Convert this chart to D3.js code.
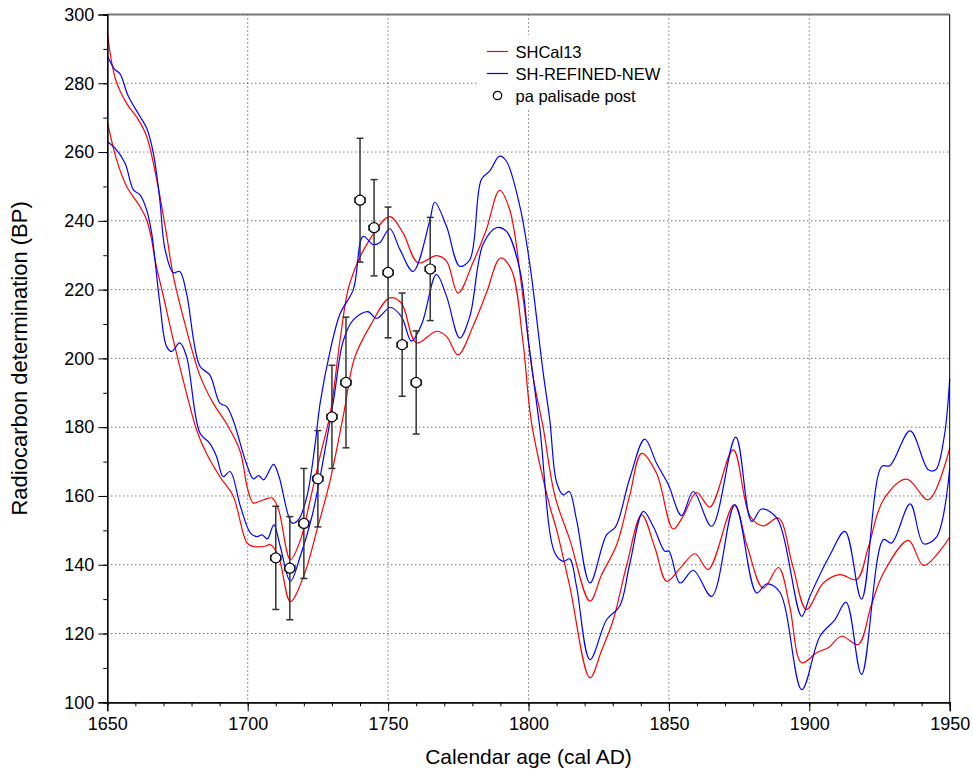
<!DOCTYPE html>
<html>
<head>
<meta charset="utf-8">
<script src="https://d3js.org/d3.v7.min.js"></script>
<style>
  html, body { margin: 0; padding: 0; background: #fff; }
  svg { display: block; font-family: "Liberation Sans", Arial, Helvetica, sans-serif; }
</style>
</head>
<body>
<div id="chart"></div>
<script>
// SHCal13 1-sigma envelope [cal AD, BP]
var shcalUpper = [
  [1650, 294.7], [1653, 281], [1657, 274], [1661, 269.5], [1664, 264.6], [1667.6, 252],
  [1671, 236.5], [1673.5, 224], [1678, 209], [1683, 195], [1687.7, 187], [1692.5, 181],
  [1697.3, 173], [1700, 162], [1702, 158], [1705.7, 158.9], [1708.7, 159.4], [1711, 156],
  [1715.2, 141.5], [1718.7, 147], [1722.3, 159], [1725.9, 172], [1729.4, 184], [1733, 206],
  [1736.4, 222], [1743.5, 234.6], [1750.6, 241.2], [1755.3, 236.5], [1760.7, 227.8],
  [1767.2, 229.9], [1770.8, 228.3], [1774.9, 219], [1780.2, 227.8], [1785, 237.5],
  [1789.7, 248.9], [1793.3, 243.3], [1798, 218], [1801.6, 194.8], [1805.2, 180], [1809.4, 160],
  [1814.7, 147.3], [1821.9, 129.4], [1826, 137], [1831.4, 145.8], [1836, 160], [1840.3, 172.4],
  [1845.6, 166.6], [1851.5, 150.4], [1855, 154], [1859.9, 161], [1864.6, 156.8], [1872.9, 173.4],
  [1878.9, 154.1], [1883.6, 151.3], [1889, 153.6], [1894, 140], [1899, 127], [1905, 134.7],
  [1910.9, 137.1], [1916.9, 135.7], [1921, 145], [1926.4, 158.9], [1934.7, 164.9],
  [1942.4, 158.9], [1950, 173.9]
];
var shcalLower = [
  [1650, 268.9], [1653.3, 257.8], [1656.9, 250], [1661.6, 244.2], [1664, 240.3], [1665.8, 234.5],
  [1667, 228.6], [1670, 218], [1673.5, 205.4], [1678.2, 189.9], [1681.8, 179.2], [1685.3, 172.4],
  [1690.1, 165.6], [1694.8, 160], [1699.8, 146.3], [1702.1, 145.3], [1705.7, 145.3],
  [1708.1, 145.8], [1711, 142.4], [1715.2, 129.3], [1719.9, 136.6], [1724.7, 150.2],
  [1729.4, 164.7], [1734.2, 184], [1738, 200], [1743.5, 209.3], [1750.6, 217.6], [1754.7, 216.1],
  [1760.1, 204.5], [1767.2, 207.9], [1770.8, 206.4], [1774.9, 201], [1780.2, 209.3], [1785, 219],
  [1790, 229.2], [1793.9, 225.8], [1798, 205], [1801.1, 181.2], [1807.6, 157], [1810, 150.2],
  [1814.7, 133.7], [1821.9, 107.1], [1826, 115], [1830.2, 124], [1835, 140], [1840.3, 154.5],
  [1845, 145], [1849.2, 135.2], [1854, 139], [1859.3, 143.2], [1864, 138.6], [1873.2, 157.4],
  [1878, 145], [1883.6, 133.2], [1889, 139.2], [1893, 128], [1897.3, 111.5], [1902.6, 114.4],
  [1907, 116], [1911.5, 119.2], [1917.4, 116.8], [1922, 128], [1926.4, 137.6], [1935.3, 147.1],
  [1940.7, 139.8], [1950, 148]
];
// SH-REFINED-NEW 1-sigma envelope
var refinedUpper = [
  [1650, 287.9], [1652.7, 284], [1654.5, 282.8], [1657.5, 276.2], [1661.6, 270.4], [1664, 267],
  [1666.4, 259.7], [1668.7, 246.1], [1670.5, 232], [1673.5, 224.9], [1675.8, 225.3], [1678.2, 219],
  [1683, 197.7], [1686.5, 195.2], [1690.1, 187], [1692.5, 186], [1694.8, 182.1], [1699.5, 169.5],
  [1702, 165], [1703.9, 165.9], [1705.7, 164.7], [1709.2, 169.2], [1711.2, 165.5],
  [1715.8, 152.1], [1718.1, 153.1], [1721.1, 159.9], [1724, 175], [1725.8, 187], [1729.3, 202],
  [1732.9, 213], [1737.6, 220], [1741.1, 235.5], [1744.7, 233.1], [1747, 233.6], [1750.6, 237.7],
  [1754.2, 231.7], [1758.9, 225.3], [1764.8, 239.9], [1766.6, 245.4], [1770.8, 238.4],
  [1775.5, 226.8], [1779.1, 228.7], [1783.2, 252], [1786.2, 254.5], [1789.7, 258.8],
  [1792.1, 257.4], [1796.9, 244.3], [1800.4, 227.8], [1805.2, 196], [1807.6, 182], [1810, 164],
  [1812.4, 160.3], [1814.5, 161.3], [1817.1, 153.1], [1821.9, 134.7], [1827.8, 148.7],
  [1831, 151], [1836, 165], [1841.4, 176.5], [1845.6, 169.5], [1849.8, 163.3], [1854.5, 154.3],
  [1858.7, 161.3], [1865.2, 151.2], [1873.8, 177.1], [1879.5, 152.6], [1883, 156.2],
  [1888.4, 153.6], [1897.3, 125], [1900.2, 130.8], [1907.4, 142.9], [1912.7, 149.7],
  [1918.6, 130], [1925.8, 168.6], [1928.7, 168.8], [1935.9, 178.9], [1942.4, 167.6],
  [1945, 167.6], [1948, 177], [1950, 194]
];
var refinedLower = [
  [1650, 263.1], [1652.7, 261.2], [1656.3, 256.8], [1659.3, 249], [1661.6, 247.6], [1664, 243.2],
  [1665.8, 236.4], [1668.7, 216.1], [1671.1, 203.5], [1672.9, 202], [1675.8, 204.5],
  [1678.2, 200.6], [1683, 178.3], [1686.5, 175.3], [1688.9, 171.5], [1691.3, 165.6],
  [1693.7, 167.1], [1697.4, 157], [1701, 149.2], [1703.3, 148.2], [1705.1, 148.7], [1707, 147.5],
  [1709.3, 151.6], [1711.6, 145.3], [1715.2, 135.2], [1718.7, 142.4], [1722.9, 154.1],
  [1725.8, 165.6], [1730.6, 188], [1734, 205], [1737.6, 211.2], [1742.8, 213.6], [1745.9, 211.6],
  [1750.8, 214.8], [1754.8, 212.1], [1758.3, 205], [1762, 210], [1767.2, 224.4], [1770.8, 218.1],
  [1775.5, 205.9], [1779.1, 212.2], [1783.8, 233.1], [1788.6, 238], [1792.1, 237],
  [1796.9, 225.8], [1800, 205], [1804, 180], [1809.4, 143.4], [1812.4, 141], [1814.7, 141.7],
  [1817.1, 133.7], [1821.9, 112.4], [1827.8, 124], [1832.5, 128], [1836, 140], [1840.9, 155.5],
  [1844.4, 151.2], [1848.6, 143.9], [1850, 144], [1854, 134.7], [1858.7, 138.4], [1865.2, 130.8],
  [1873.5, 157.4], [1881.2, 131.8], [1884.8, 134.4], [1889.5, 132], [1897.3, 103.7],
  [1903.8, 119.2], [1909.1, 124], [1913.1, 129.1], [1918.6, 108.1], [1926.4, 147.3],
  [1929.3, 146.3], [1935.9, 157.7], [1940.7, 146.1], [1945.4, 148.2], [1950, 168]
];

// pa palisade post dates
var postYears = [1710, 1715, 1720, 1725, 1730, 1735, 1740, 1745, 1750, 1755, 1760, 1765];
var postBP    = [142, 139, 152, 165, 183, 193, 246, 238, 225, 204, 193, 226];
var postErr   = [15, 15, 16, 14, 15, 19, 18, 14, 19, 15, 15, 15];
var postYearErr = 1.8;

var xTicks = [1650, 1700, 1750, 1800, 1850, 1900, 1950];
var yTicks = [100, 120, 140, 160, 180, 200, 220, 240, 260, 280, 300];

var legendItems = ["SHCal13", "SH-REFINED-NEW", "pa palisade post"];

var W = 973, H = 773;
var margin = {top: 14.5, right: 23.3, bottom: 70.7, left: 107.3};
var width = W - margin.left - margin.right,
    height = H - margin.top - margin.bottom;

var svg = d3.select("#chart").append("svg")
    .attr("width", W)
    .attr("height", H);

var g = svg.append("g")
    .attr("transform", "translate(" + margin.left + "," + margin.top + ")");

var x = d3.scaleLinear().domain([1650, 1950]).range([0, width]);
var y = d3.scaleLinear().domain([100, 300]).range([height, 0]);

// gitter (gepunktet)
g.append("g").selectAll("line")
    .data(xTicks.slice(1, -1))
    .enter().append("line")
    .attr("x1", d => x(d)).attr("x2", d => x(d))
    .attr("y1", 0).attr("y2", height)
    .attr("stroke", "#333").attr("stroke-width", 1)
    .attr("stroke-dasharray", "1,3");
g.append("g").selectAll("line")
    .data(yTicks.slice(1, -1))
    .enter().append("line")
    .attr("x1", 0).attr("x2", width)
    .attr("y1", d => y(d)).attr("y2", d => y(d))
    .attr("stroke", "#333").attr("stroke-width", 1)
    .attr("stroke-dasharray", "1,3");

// kurven
var line = d3.line()
    .x(d => x(d[0]))
    .y(d => y(d[1]))
    .curve(d3.curveCatmullRom.alpha(0.5));

var curves = [
  {data: shcalLower, color: "#ff0000"},
  {data: shcalUpper, color: "#ff0000"},
  {data: refinedLower, color: "#0000ff"},
  {data: refinedUpper, color: "#0000ff"}
];
g.append("g").selectAll("path")
    .data(curves)
    .enter().append("path")
    .attr("d", d => line(d.data))
    .attr("fill", "none")
    .attr("stroke", d => d.color)
    .attr("stroke-width", 1.2);

// messpunkte mit fehlerbalken
var posts = postYears.map((yr, i) => ({year: yr, bp: postBP[i], err: postErr[i]}));
var pg = g.append("g").selectAll("g")
    .data(posts)
    .enter().append("g")
    .attr("stroke", "#333")
    .attr("stroke-width", 1.5);

pg.append("line")
    .attr("x1", d => x(d.year)).attr("x2", d => x(d.year))
    .attr("y1", d => y(d.bp - d.err)).attr("y2", d => y(d.bp + d.err));
pg.append("line")
    .attr("x1", d => x(d.year) - 3.5).attr("x2", d => x(d.year) + 3.5)
    .attr("y1", d => y(d.bp + d.err)).attr("y2", d => y(d.bp + d.err));
pg.append("line")
    .attr("x1", d => x(d.year) - 3.5).attr("x2", d => x(d.year) + 3.5)
    .attr("y1", d => y(d.bp - d.err)).attr("y2", d => y(d.bp - d.err));
pg.append("line")
    .attr("x1", d => x(d.year - postYearErr)).attr("x2", d => x(d.year + postYearErr))
    .attr("y1", d => y(d.bp)).attr("y2", d => y(d.bp));
pg.append("line")
    .attr("x1", d => x(d.year - postYearErr)).attr("x2", d => x(d.year - postYearErr))
    .attr("y1", d => y(d.bp) - 3).attr("y2", d => y(d.bp) + 3);
pg.append("line")
    .attr("x1", d => x(d.year + postYearErr)).attr("x2", d => x(d.year + postYearErr))
    .attr("y1", d => y(d.bp) - 3).attr("y2", d => y(d.bp) + 3);
pg.append("circle")
    .attr("cx", d => x(d.year)).attr("cy", d => y(d.bp))
    .attr("r", 5)
    .attr("fill", "white")
    .attr("stroke", "#000")
    .attr("stroke-width", 1.2);

// rahmen oben / rechts
g.append("line").attr("x1", 0).attr("x2", width).attr("y1", 0).attr("y2", 0)
    .attr("stroke", "#777").attr("stroke-width", 2);
g.append("line").attr("x1", width).attr("x2", width).attr("y1", 0).attr("y2", height)
    .attr("stroke", "#000").attr("stroke-width", 1);

// achsen
var xAxis = g.append("g").attr("transform", "translate(0," + height + ")");
xAxis.call(d3.axisBottom(x).tickValues(d3.range(1650, 1951, 10)).tickSize(4).tickFormat(""));
xAxis.append("g").call(d3.axisBottom(x).tickValues(xTicks).tickSize(9).tickPadding(6).tickFormat(d3.format("d")));
var yAxis = g.append("g");
yAxis.call(d3.axisLeft(y).tickValues(d3.range(100, 301, 10)).tickSize(4).tickFormat(""));
yAxis.append("g").call(d3.axisLeft(y).tickValues(yTicks).tickSize(9).tickPadding(4));

g.selectAll(".domain").attr("stroke", "#000").attr("stroke-width", 1.2);
g.selectAll(".tick line").attr("stroke", "#000");
g.selectAll(".tick text")
    .style("font-family", "'Liberation Sans', Arial, sans-serif")
    .style("font-size", "18px")
    .attr("fill", "#000");

// achsentitel
svg.append("text")
    .attr("x", margin.left + x(1800))
    .attr("y", 764)
    .attr("text-anchor", "middle")
    .style("font-size", "21px")
    .text("Calendar age (cal AD)");
svg.append("text")
    .attr("transform", "translate(27," + (margin.top + height / 2) + ") rotate(-90)")
    .attr("text-anchor", "middle")
    .style("font-size", "22px")
    .text("Radiocarbon determination (BP)");

// legende
var lg = svg.append("g").attr("transform", "translate(477,35)");
lg.append("rect").attr("width", 190).attr("height", 75).attr("fill", "white");
var rows = lg.selectAll("g.row")
    .data(legendItems)
    .enter().append("g")
    .attr("class", "row")
    .attr("transform", (d, i) => "translate(0," + (16.5 + i * 22) + ")");
rows.filter((d, i) => i < 2).append("line")
    .attr("x1", 10).attr("x2", 31)
    .attr("stroke", (d, i) => i === 0 ? "#ff0000" : "#0000ff")
    .attr("stroke-width", 1.2);
rows.filter((d, i) => i === 2).append("circle")
    .attr("cx", 20.5).attr("r", 4.2)
    .attr("fill", "white").attr("stroke", "#000").attr("stroke-width", 1.2);
rows.append("text")
    .attr("x", 38.5).attr("y", 6)
    .style("font-size", "16.5px")
    .text(d => d);
</script>
</body>
</html>
